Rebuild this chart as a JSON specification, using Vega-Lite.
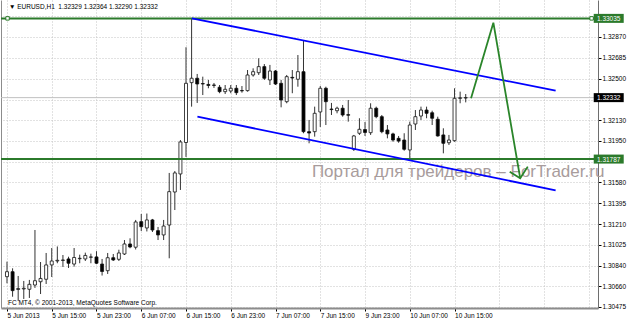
{
  "$schema": "https://vega.github.io/schema/vega-lite/v6.json",
  "width": 597,
  "height": 308,
  "autosize": "none",
  "padding": {"left": 1, "top": 0, "right": 31, "bottom": 12},
  "background": "white",
  "view": {"stroke": null},
  "config": {"font": "Liberation Sans"},
  "resolve": {"axis": {"y": "independent"}},
  "datasets": {
    "candles": [
      {"i":0,"o":1.30744,"h":1.30877,"l":1.30685,"c":1.30788},
      {"i":1,"o":1.30788,"h":1.30818,"l":1.30566,"c":1.30620},
      {"i":2,"o":1.30630,"h":1.30750,"l":1.30528,"c":1.30639},
      {"i":3,"o":1.30635,"h":1.30706,"l":1.30546,"c":1.30641},
      {"i":4,"o":1.30632,"h":1.30715,"l":1.30555,"c":1.30676},
      {"i":5,"o":1.30670,"h":1.31158,"l":1.30644,"c":1.30708},
      {"i":6,"o":1.30699,"h":1.30874,"l":1.30590,"c":1.30728},
      {"i":7,"o":1.30721,"h":1.30954,"l":1.30679,"c":1.30848},
      {"i":8,"o":1.30848,"h":1.30998,"l":1.30741,"c":1.30883},
      {"i":9,"o":1.30883,"h":1.31012,"l":1.30863,"c":1.30889},
      {"i":10,"o":1.30888,"h":1.30936,"l":1.30830,"c":1.30892},
      {"i":11,"o":1.30901,"h":1.30921,"l":1.30821,"c":1.30863},
      {"i":12,"o":1.30856,"h":1.30998,"l":1.30833,"c":1.30914},
      {"i":13,"o":1.30903,"h":1.30939,"l":1.30863,"c":1.30907},
      {"i":14,"o":1.30901,"h":1.30957,"l":1.30883,"c":1.30932},
      {"i":15,"o":1.30916,"h":1.30948,"l":1.30863,"c":1.30919},
      {"i":16,"o":1.30919,"h":1.30970,"l":1.30856,"c":1.30863},
      {"i":17,"o":1.30856,"h":1.30901,"l":1.30754,"c":1.30790},
      {"i":18,"o":1.30797,"h":1.30954,"l":1.30768,"c":1.30912},
      {"i":19,"o":1.30912,"h":1.30945,"l":1.30883,"c":1.30892},
      {"i":20,"o":1.30898,"h":1.30983,"l":1.30883,"c":1.30954},
      {"i":21,"o":1.30945,"h":1.31069,"l":1.30936,"c":1.31034},
      {"i":22,"o":1.31034,"h":1.31084,"l":1.30996,"c":1.31007},
      {"i":23,"o":1.31005,"h":1.31247,"l":1.30985,"c":1.31229},
      {"i":24,"o":1.31232,"h":1.31300,"l":1.31149,"c":1.31187},
      {"i":25,"o":1.31176,"h":1.31304,"l":1.31145,"c":1.31247},
      {"i":26,"o":1.31247,"h":1.31256,"l":1.31140,"c":1.31158},
      {"i":27,"o":1.31152,"h":1.31185,"l":1.31069,"c":1.31114},
      {"i":28,"o":1.31114,"h":1.31247,"l":1.31069,"c":1.31193},
      {"i":29,"o":1.31202,"h":1.31664,"l":1.30907,"c":1.31498},
      {"i":30,"o":1.31495,"h":1.31681,"l":1.31335,"c":1.31664},
      {"i":31,"o":1.31655,"h":1.31956,"l":1.31513,"c":1.31939},
      {"i":32,"o":1.31934,"h":1.32779,"l":1.31806,"c":1.32459},
      {"i":33,"o":1.32465,"h":1.33035,"l":1.32252,"c":1.32504},
      {"i":34,"o":1.32504,"h":1.32542,"l":1.32285,"c":1.32453},
      {"i":35,"o":1.32457,"h":1.32518,"l":1.32355,"c":1.32453},
      {"i":36,"o":1.32449,"h":1.32489,"l":1.32415,"c":1.32440},
      {"i":37,"o":1.32444,"h":1.32462,"l":1.32418,"c":1.32441},
      {"i":38,"o":1.32424,"h":1.32444,"l":1.32371,"c":1.32385},
      {"i":39,"o":1.32385,"h":1.32444,"l":1.32364,"c":1.32406},
      {"i":40,"o":1.32391,"h":1.32444,"l":1.32371,"c":1.32415},
      {"i":41,"o":1.32415,"h":1.32444,"l":1.32355,"c":1.32376},
      {"i":42,"o":1.32395,"h":1.32435,"l":1.32376,"c":1.32392},
      {"i":43,"o":1.32394,"h":1.32577,"l":1.32385,"c":1.32533},
      {"i":44,"o":1.32533,"h":1.32592,"l":1.32518,"c":1.32562},
      {"i":45,"o":1.32553,"h":1.32681,"l":1.32533,"c":1.32607},
      {"i":46,"o":1.32607,"h":1.32630,"l":1.32489,"c":1.32504},
      {"i":47,"o":1.32489,"h":1.32622,"l":1.32444,"c":1.32568},
      {"i":48,"o":1.32568,"h":1.32577,"l":1.32444,"c":1.32453},
      {"i":49,"o":1.32459,"h":1.32489,"l":1.32246,"c":1.32311},
      {"i":50,"o":1.32296,"h":1.32533,"l":1.32282,"c":1.32518},
      {"i":51,"o":1.32512,"h":1.32577,"l":1.32371,"c":1.32506},
      {"i":52,"o":1.32495,"h":1.32710,"l":1.32429,"c":1.32562},
      {"i":53,"o":1.32562,"h":1.32834,"l":1.32016,"c":1.32030},
      {"i":54,"o":1.32030,"h":1.32134,"l":1.31927,"c":1.32018},
      {"i":55,"o":1.32030,"h":1.32252,"l":1.31986,"c":1.32193},
      {"i":56,"o":1.32205,"h":1.32435,"l":1.32072,"c":1.32415},
      {"i":57,"o":1.32415,"h":1.32429,"l":1.32089,"c":1.32296},
      {"i":58,"o":1.32231,"h":1.32285,"l":1.32178,"c":1.32226},
      {"i":59,"o":1.32216,"h":1.32252,"l":1.32193,"c":1.32238},
      {"i":60,"o":1.32238,"h":1.32267,"l":1.32163,"c":1.32178},
      {"i":61,"o":1.32181,"h":1.32311,"l":1.32119,"c":1.32176},
      {"i":62,"o":1.31874,"h":1.32001,"l":1.31859,"c":1.31992},
      {"i":63,"o":1.32016,"h":1.32149,"l":1.32001,"c":1.32051},
      {"i":64,"o":1.32049,"h":1.32116,"l":1.31992,"c":1.32023},
      {"i":65,"o":1.32021,"h":1.32282,"l":1.32001,"c":1.32238},
      {"i":66,"o":1.32238,"h":1.32252,"l":1.32149,"c":1.32163},
      {"i":67,"o":1.32163,"h":1.32178,"l":1.32016,"c":1.32030},
      {"i":68,"o":1.32045,"h":1.32089,"l":1.31971,"c":1.32010},
      {"i":69,"o":1.32010,"h":1.32021,"l":1.31941,"c":1.31956},
      {"i":70,"o":1.31971,"h":1.31992,"l":1.31932,"c":1.31947},
      {"i":71,"o":1.31956,"h":1.32016,"l":1.31861,"c":1.31874},
      {"i":72,"o":1.31868,"h":1.32119,"l":1.31787,"c":1.32089},
      {"i":73,"o":1.32098,"h":1.32222,"l":1.32045,"c":1.32163},
      {"i":74,"o":1.32169,"h":1.32252,"l":1.32134,"c":1.32222},
      {"i":75,"o":1.32222,"h":1.32252,"l":1.32149,"c":1.32193},
      {"i":76,"o":1.32198,"h":1.32216,"l":1.32089,"c":1.32149},
      {"i":77,"o":1.32140,"h":1.32163,"l":1.31986,"c":1.31992},
      {"i":78,"o":1.32001,"h":1.32060,"l":1.31838,"c":1.31927},
      {"i":79,"o":1.31932,"h":1.32001,"l":1.31912,"c":1.31956},
      {"i":80,"o":1.31950,"h":1.32415,"l":1.31941,"c":1.32326},
      {"i":81,"o":1.32326,"h":1.32385,"l":1.32282,"c":1.32330},
      {"i":82,"o":1.32329,"h":1.32364,"l":1.32290,"c":1.32332}
    ],
    "levels": [{"p": 1.33035}, {"p": 1.31787}],
    "anchors": [{"i": 0.1, "p": 1.33035}, {"i": 104.5, "p": 1.33035}],
    "channel": [
      {"i": 33.04, "p": 1.33036, "g": "up"},
      {"i": 98.07, "p": 1.32394, "g": "up"},
      {"i": 34.04, "p": 1.32163, "g": "lo"},
      {"i": 98.07, "p": 1.31510, "g": "lo"}
    ],
    "zigzag": [
      {"i": 82.95, "p": 1.32326, "g": "a", "o": 1},
      {"i": 86.94, "p": 1.32997, "g": "a", "o": 2},
      {"i": 91.74, "p": 1.31617, "g": "a", "o": 3},
      {"i": 89.86, "p": 1.31675, "g": "b", "o": 1},
      {"i": 91.74, "p": 1.31617, "g": "b", "o": 2},
      {"i": 93.09, "p": 1.31720, "g": "b", "o": 3}
    ],
    "boxes": [
      {"p": 1.33035, "t": "1.33035", "k": "line"},
      {"p": 1.31787, "t": "1.31787", "k": "line"},
      {"p": 1.32332, "t": "1.32332", "k": "bid"}
    ],
    "header": [{"t": "▼ EURUSD,H1\u00a0 1.32329 1.32364 1.32290 1.32332"}],
    "copyright": [{"t": "FC MT4, © 2001-2013, MetaQuotes Software Corp."}],
    "watermark": [{"t": "Портал для трейдеров – ForTrader.ru"}]
  },
  "layer": [
    {
      "data": {"values": [{"p": 1.32332}]},
      "mark": {"type": "rule", "color": "#c0c0c0", "strokeWidth": 1},
      "encoding": {
        "y": {"field": "p", "type": "quantitative",
          "scale": {"domain": [1.30466, 1.33198], "nice": false, "zero": false},
          "axis": {"orient": "left", "labels": false, "ticks": false, "grid": false, "domain": true, "domainColor": "#8c8c8c", "title": null}}
      }
    },
    {
      "data": {"name": "candles"},
      "mark": {"type": "rule", "color": "#333333", "strokeWidth": 1},
      "encoding": {
        "x": {"field": "i", "type": "quantitative",
          "scale": {"domain": [-0.176, 104.75], "nice": false, "zero": false},
          "axis": {
            "orient": "bottom",
            "values": [0,4,8,12,16,20,24,28,32,36,40,44,48,52,56,60,64,68,72,76,80,84,88,92,96,100,104],
            "grid": true, "gridColor": "#c4c4c4", "gridDash": [1, 2],
            "domainColor": "#8c8c8c", "domainWidth": 2,
            "tickSize": 3,
            "tickColor": {"condition": {"test": "datum.value % 8 == 0 && datum.value <= 80", "value": "#000000"}, "value": "transparent"},
            "labelExpr": "(datum.value % 8 == 0 && datum.value <= 80) ? ['5 Jun 2013','5 Jun 15:00','5 Jun 23:00','6 Jun 07:00','6 Jun 15:00','6 Jun 23:00','7 Jun 07:00','7 Jun 15:00','9 Jun 23:00','10 Jun 07:00','10 Jun 15:00'][datum.value / 8] : ''",
            "labelAlign": "left", "labelBaseline": "top", "labelPadding": 1, "labelDx": 1,
            "labelFontSize": 6.5, "labelColor": "#000000", "labelFlush": false, "labelOverlap": false,
            "title": null
          }},
        "y": {"field": "l", "type": "quantitative",
          "scale": {"domain": [1.30466, 1.33198], "nice": false, "zero": false},
          "axis": {
            "orient": "right",
            "values": [1.30475,1.3066,1.3084,1.31025,1.3121,1.31395,1.3158,1.31765,1.3195,1.3213,1.32315,1.325,1.32685,1.3287,1.33055],
            "format": ".5f",
            "labelExpr": "(abs(datum.value-1.31765)<0.000001 || abs(datum.value-1.32315)<0.000001 || abs(datum.value-1.33055)<0.000001) ? '' : datum.label",
            "grid": true, "gridColor": "#c4c4c4", "gridDash": [1, 2],
            "domainColor": "#6e6e6e", "tickSize": 3, "tickColor": "#000000",
            "labelPadding": 1, "labelFontSize": 6.5, "labelColor": "#000000", "labelFlush": false, "labelOverlap": false,
            "title": null
          }},
        "y2": {"field": "h"}
      }
    },
    {
      "data": {"name": "candles"},
      "mark": {"type": "bar", "size": 3, "stroke": "#111111", "strokeWidth": 0.8},
      "encoding": {
        "x": {"field": "i", "type": "quantitative"},
        "y": {"field": "o", "type": "quantitative", "axis": null},
        "y2": {"field": "c"},
        "fill": {"condition": {"test": "datum.c >= datum.o", "value": "#ffffff"}, "value": "#000000"}
      }
    },
    {
      "data": {"name": "watermark"},
      "mark": {"type": "text", "align": "left", "baseline": "alphabetic", "fontSize": 17, "color": "#a89c9c"},
      "encoding": {
        "x": {"datum": 54.5, "type": "quantitative"},
        "y": {"datum": 1.31628, "type": "quantitative", "axis": null},
        "text": {"field": "t"}
      }
    },
    {
      "data": {"name": "levels"},
      "mark": {"type": "rule", "color": "#2b7a2b", "strokeWidth": 2},
      "encoding": {
        "y": {"field": "p", "type": "quantitative", "axis": null}
      }
    },
    {
      "data": {"name": "channel"},
      "mark": {"type": "line", "color": "#0000ff", "strokeWidth": 1.8},
      "encoding": {
        "x": {"field": "i", "type": "quantitative"},
        "y": {"field": "p", "type": "quantitative", "axis": null},
        "detail": {"field": "g"}
      }
    },
    {
      "data": {"name": "zigzag"},
      "mark": {"type": "line", "color": "#2a852a", "strokeWidth": 1.8},
      "encoding": {
        "x": {"field": "i", "type": "quantitative"},
        "y": {"field": "p", "type": "quantitative", "axis": null},
        "detail": {"field": "g"},
        "order": {"field": "o"}
      }
    },
    {
      "data": {"name": "anchors"},
      "mark": {"type": "point", "shape": "square", "size": 12, "filled": true, "fill": "#ffffff", "stroke": "#2b7a2b", "strokeWidth": 1, "opacity": 1},
      "encoding": {
        "x": {"field": "i", "type": "quantitative"},
        "y": {"field": "p", "type": "quantitative", "axis": null}
      }
    },
    {
      "data": {"name": "boxes"},
      "mark": {"type": "point", "shape": "M-1,-0.3L1,-0.3L1,0.3L-1,0.3Z", "size": 900, "filled": true, "opacity": 1},
      "encoding": {
        "x": {"datum": 107.56, "type": "quantitative"},
        "y": {"field": "p", "type": "quantitative", "axis": null},
        "color": {"field": "k", "type": "nominal", "scale": {"domain": ["line", "bid"], "range": ["#2b7a2b", "#000000"]}, "legend": null}
      }
    },
    {
      "data": {"name": "boxes"},
      "mark": {"type": "text", "align": "center", "baseline": "middle", "fontSize": 6.5, "color": "#ffffff", "dy": 0.5},
      "encoding": {
        "x": {"datum": 107.56, "type": "quantitative"},
        "y": {"field": "p", "type": "quantitative", "axis": null},
        "text": {"field": "t"}
      }
    },
    {
      "data": {"name": "header"},
      "mark": {"type": "text", "align": "left", "baseline": "alphabetic", "fontSize": 6.5, "color": "#000000"},
      "encoding": {
        "x": {"datum": 0.35, "type": "quantitative"},
        "y": {"datum": 1.33118, "type": "quantitative", "axis": null},
        "text": {"field": "t"}
      }
    },
    {
      "data": {"name": "copyright"},
      "mark": {"type": "text", "align": "left", "baseline": "alphabetic", "fontSize": 6.5, "color": "#000000"},
      "encoding": {
        "x": {"datum": 0.175, "type": "quantitative"},
        "y": {"datum": 1.30493, "type": "quantitative", "axis": null},
        "text": {"field": "t"}
      }
    }
  ]
}
